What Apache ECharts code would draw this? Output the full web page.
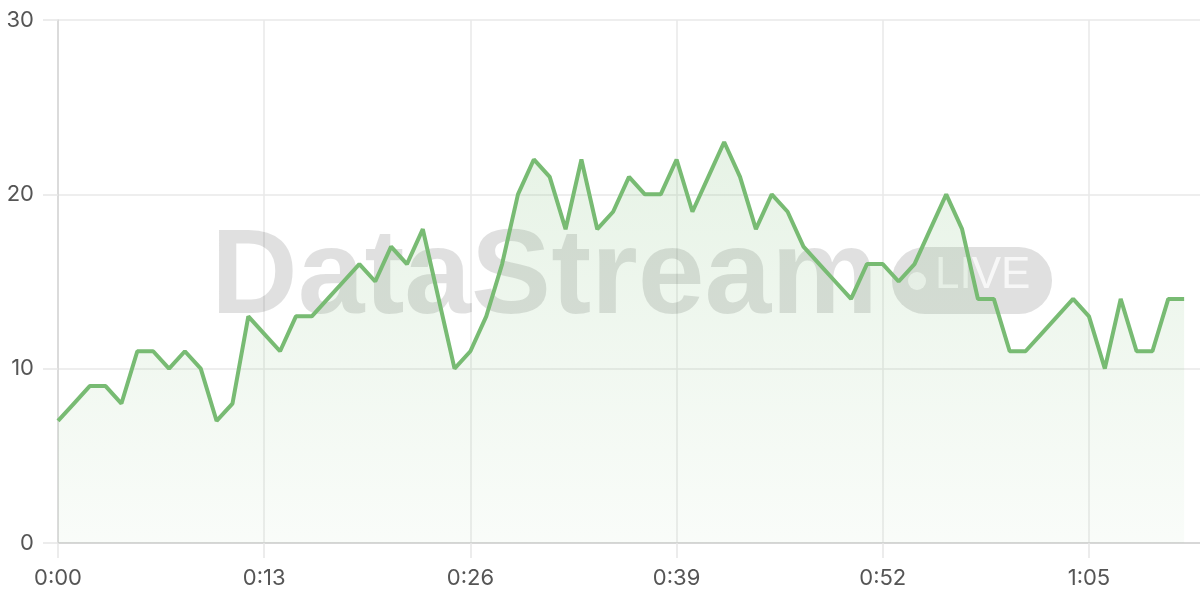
<!DOCTYPE html>
<html>
<head>
<meta charset="utf-8">
<script src="https://cdn.jsdelivr.net/npm/echarts@6/dist/echarts.min.js"></script>
<style>
html,body{margin:0;padding:0;background:#fff;}
#chart{width:1200px;height:600px;}
</style>
</head>
<body>
<div id="chart"></div>
<script>
var categories = [
  "0:00","0:01","0:02","0:03","0:04","0:05","0:06","0:07","0:08","0:09",
  "0:10","0:11","0:12","0:13","0:14","0:15","0:16","0:17","0:18","0:19",
  "0:20","0:21","0:22","0:23","0:24","0:25","0:26","0:27","0:28","0:29",
  "0:30","0:31","0:32","0:33","0:34","0:35","0:36","0:37","0:38","0:39",
  "0:40","0:41","0:42","0:43","0:44","0:45","0:46","0:47","0:48","0:49",
  "0:50","0:51","0:52","0:53","0:54","0:55","0:56","0:57","0:58","0:59",
  "1:00","1:01","1:02","1:03","1:04","1:05","1:06","1:07","1:08","1:09",
  "1:10","1:11","1:12"
];
var values = [
  7, 8, 9, 9, 8, 11, 11, 10, 11, 10,
  7, 8, 13, 12, 11, 13, 13, 14, 15, 16,
  15, 17, 16, 18, 14, 10, 11, 13, 16, 20,
  22, 21, 18, 22, 18, 19, 21, 20, 20, 22,
  19, 21, 23, 21, 18, 20, 19, 17, 16, 15,
  14, 16, 16, 15, 16, 18, 20, 18, 14, 14,
  11, 11, 12, 13, 14, 13, 10, 14, 11, 11,
  14, 14
];
var yTicks = { min: 0, max: 30, interval: 10 };
var watermarkTitle = "DataStream";
var watermarkBadge = "LIVE";

var chart = echarts.init(document.getElementById('chart'), null, { renderer: 'canvas' });
chart.setOption({
  animation: false,
  backgroundColor: '#ffffff',
  grid: { left: 58, right: 0, top: 20, bottom: 57 },
  xAxis: {
    type: 'category',
    data: categories,
    boundaryGap: false,
    axisLine: { show: true, lineStyle: { color: '#cfcfcf', width: 1.5 } },
    axisTick: { show: true, interval: 12, length: 15, lineStyle: { color: '#e6e6e6', width: 1.5 } },
    axisLabel: { interval: 12, margin: 24, color: '#555555', fontSize: 22, fontFamily: 'Inter' },
    splitLine: { show: true, interval: 12, lineStyle: { color: '#e9e9e9', width: 1.5 } }
  },
  yAxis: {
    type: 'value',
    min: yTicks.min, max: yTicks.max, interval: yTicks.interval,
    axisLine: { show: true, lineStyle: { color: '#d4d4d4', width: 1.5 } },
    axisTick: { show: true, length: 15, lineStyle: { color: '#e6e6e6', width: 1.5 } },
    axisLabel: { margin: 24, color: '#555555', fontSize: 22, fontFamily: 'Inter' },
    splitLine: { show: true, lineStyle: { color: '#e9e9e9', width: 1.5 } }
  },
  graphic: [
    {
      type: 'text', z: 1, left: 211, top: 220,
      style: {
        text: watermarkTitle, fill: 'rgba(0,0,0,0.12)',
        font: 'bold 120px "Liberation Sans", Arial, sans-serif'
      }
    },
    {
      type: 'rect', z: 1, left: 892, top: 247,
      shape: { width: 160, height: 67, r: 33 },
      style: { fill: 'rgba(0,0,0,0.12)' }
    },
    {
      type: 'circle', z: 1, left: 908, top: 272,
      shape: { r: 9 },
      style: { fill: 'rgba(255,255,255,0.75)' }
    },
    {
      type: 'text', z: 1, left: 935, top: 254,
      style: {
        text: watermarkBadge, fill: 'rgba(255,255,255,0.75)',
        font: '44px "Liberation Sans", Arial, sans-serif'
      }
    }
  ],
  series: [{
    type: 'line',
    data: values,
    symbol: 'none',
    z: 5,
    lineStyle: { color: '#78bb73', width: 4 },
    itemStyle: { color: '#78bb73' },
    areaStyle: {
      color: new echarts.graphic.LinearGradient(0, 0, 0, 1, [
        { offset: 0, color: 'rgba(120,187,115,0.26)' },
        { offset: 1, color: 'rgba(120,187,115,0.06)' }
      ])
    }
  }]
});
</script>
</body>
</html>
